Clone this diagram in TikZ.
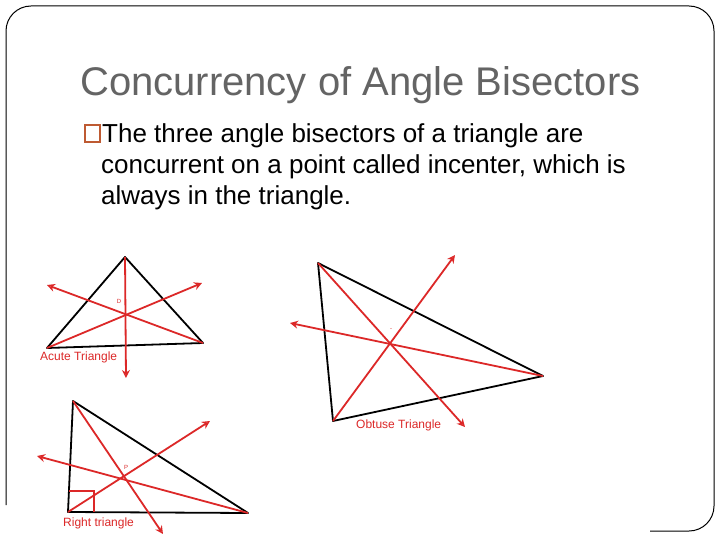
\documentclass[tikz,border=0pt]{standalone}
\usepackage{fontspec}
\setmainfont{Liberation Sans}
\usetikzlibrary{arrows.meta}
\definecolor{rd}{RGB}{220,40,40}
\definecolor{tg}{RGB}{100,100,100}
\definecolor{bb}{RGB}{190,90,50}
\begin{document}
\begin{tikzpicture}[x=1pt,y=-1pt,
  tri/.style={draw=black,line width=1.8pt,line join=round},
  bis/.style={draw=rd,line width=1.8pt,-{Stealth[length=8pt,width=8pt,open]}},
  lbl/.style={text=rd,font=\fontsize{12}{13}\selectfont,inner sep=0pt},
  mk/.style={text=rd,font=\fontsize{6}{7}\selectfont,inner sep=0pt},
  body/.style={anchor=base west,font=\fontsize{26}{31}\selectfont,inner sep=0pt}]
\useasboundingbox (0,0) rectangle (720,540);
\fill[white] (0,0) rectangle (720,540);
% border
\draw[line width=1pt,rounded corners=25pt] (6,505) -- (6,6) -- (714,6) -- (714,531) -- (650,531);
% title and text
\node[anchor=base west,text=tg,font=\fontsize{40}{46}\selectfont,inner sep=0pt] (title) at (80,96) {Concurrency of Angle Bisectors};
\node[anchor=south west,draw=bb,line width=1.5pt,minimum width=15pt,minimum height=17pt,inner sep=0pt] (bul) at (84,143) {};
\node[body] (t1) at (102,143) {The three angle bisectors of a triangle are};
\node[body] (t2) at (101,174) {concurrent on a point called incenter, which is};
\node[body] (t3) at (101,205) {always in the triangle.};
% acute
\coordinate (aA) at (125,257); \coordinate (aB) at (47,348); \coordinate (aC) at (203,343);
\coordinate (aE1) at (126,378); \coordinate (aE2) at (202,283); \coordinate (aE3) at (47,285);
\draw[tri] (aA) -- (aB) -- (aC) -- cycle;
\draw[bis] (aA) -- (aE1);
\draw[bis] (aB) -- (aE2);
\draw[bis] (aC) -- (aE3);
\node[lbl,anchor=west] (al) at (40,357) {Acute Triangle};
\node[mk] (am) at (119,301) {D};
% obtuse
\coordinate (oA) at (318,263); \coordinate (oB) at (543,376); \coordinate (oC) at (333,421);
\coordinate (oE1) at (465,427); \coordinate (oE2) at (455,255); \coordinate (oE3) at (290,323);
\draw[tri] (oA) -- (oB) -- (oC) -- cycle;
\draw[bis] (oA) -- (oE1);
\draw[bis] (oC) -- (oE2);
\draw[bis] (oB) -- (oE3);
\node[lbl,anchor=west] (ol) at (356,425) {Obtuse Triangle};
\node[mk] (om) at (391,330) {-};
% right
\coordinate (rA) at (73,401); \coordinate (rB) at (68,512); \coordinate (rC) at (248,513);
\coordinate (rE1) at (163,534); \coordinate (rE2) at (210,421); \coordinate (rE3) at (37,456);
\draw[tri] (rA) -- (rB) -- (rC) -- cycle;
\draw[draw=rd,line width=1.5pt] (69,491) -- (94,491) -- (94,512);
\draw[bis] (rA) -- (rE1);
\draw[bis] (rB) -- (rE2);
\draw[bis] (rC) -- (rE3);
\node[lbl,anchor=west] (rl) at (63,523) {Right triangle};
\node[mk] (rm) at (126,467) {P};
\end{tikzpicture}
\end{document}
